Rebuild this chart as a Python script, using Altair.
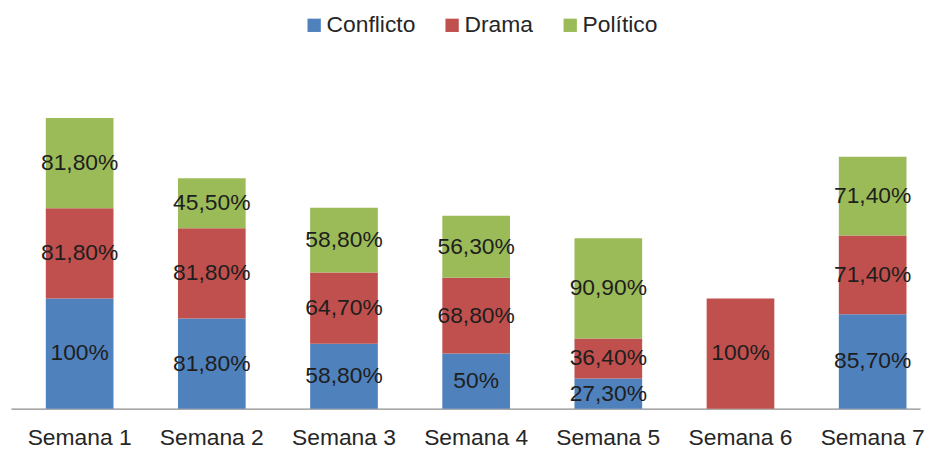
import altair as alt
import pandas as pd

weeks = ["Semana 1", "Semana 2", "Semana 3", "Semana 4", "Semana 5", "Semana 6", "Semana 7"]
series = ["Conflicto", "Drama", "Político"]
colors = ["#4F81BD", "#C0504D", "#9BBB59"]

conflicto = [100, 81.8, 58.8, 50, 27.3, None, 85.7]
drama = [81.8, 81.8, 64.7, 68.8, 36.4, 100, 71.4]
politico = [81.8, 45.5, 58.8, 56.3, 90.9, None, 71.4]

conflicto_lbl = ["100%", "81,80%", "58,80%", "50%", "27,30%", "", "85,70%"]
drama_lbl = ["81,80%", "81,80%", "64,70%", "68,80%", "36,40%", "100%", "71,40%"]
politico_lbl = ["81,80%", "45,50%", "58,80%", "56,30%", "90,90%", "", "71,40%"]

rows = []
for s_i, (name, vals, lbls) in enumerate(zip(series,
                                             [conflicto, drama, politico],
                                             [conflicto_lbl, drama_lbl, politico_lbl])):
    for w, v, l in zip(weeks, vals, lbls):
        if v is None:
            continue
        rows.append({"semana": w, "serie": name, "valor": v, "etiqueta": l, "orden": s_i})
df = pd.DataFrame(rows)

FONT = "Liberation Sans"

base = alt.Chart(df).transform_stack(
    stack="valor", groupby=["semana"], as_=["y0", "y1"],
    sort=[alt.SortField("orden", order="ascending")]
).transform_calculate(mid="(datum.y0 + datum.y1) / 2")

xenc = alt.X("semana:N", sort=weeks, title=None,
             scale=alt.Scale(paddingInner=0.488, paddingOuter=0.183, align=0.72),
             axis=alt.Axis(labelAngle=0, ticks=False, tickSize=0, labelPadding=18,
                           labelFontSize=23, labelFont=FONT, labelColor="#262626",
                           domainColor="#8C8C8C", domainWidth=1.5))

yscale = alt.Scale(domain=[0, 362], nice=False, zero=True)

bars = base.mark_bar().encode(
    x=xenc,
    y=alt.Y("y0:Q", scale=yscale, axis=None),
    y2="y1:Q",
    color=alt.Color("serie:N", sort=series,
                    scale=alt.Scale(domain=series, range=colors),
                    legend=alt.Legend(title=None, orient="none", direction="horizontal",
                                      legendX=294, legendY=4, symbolType="square",
                                      symbolSize=180, symbolStrokeWidth=0,
                                      labelFontSize=23, labelFont=FONT,
                                      labelColor="#262626", labelOffset=1,
                                      columnPadding=25, padding=0)),
)

texts = base.mark_text(fontSize=23, font=FONT, color="#1E1E1E", baseline="middle").encode(
    x=alt.X("semana:N", sort=weeks),
    y=alt.Y("mid:Q", scale=yscale),
    text="etiqueta:N",
)

chart = alt.layer(bars, texts).properties(
    width=916, height=402,
    padding={"left": 3, "top": 0, "right": 0, "bottom": 0},
    background="white",
).configure_view(stroke=None)

chart.save("out.html", embed_options={"renderer": "svg", "actions": False})
